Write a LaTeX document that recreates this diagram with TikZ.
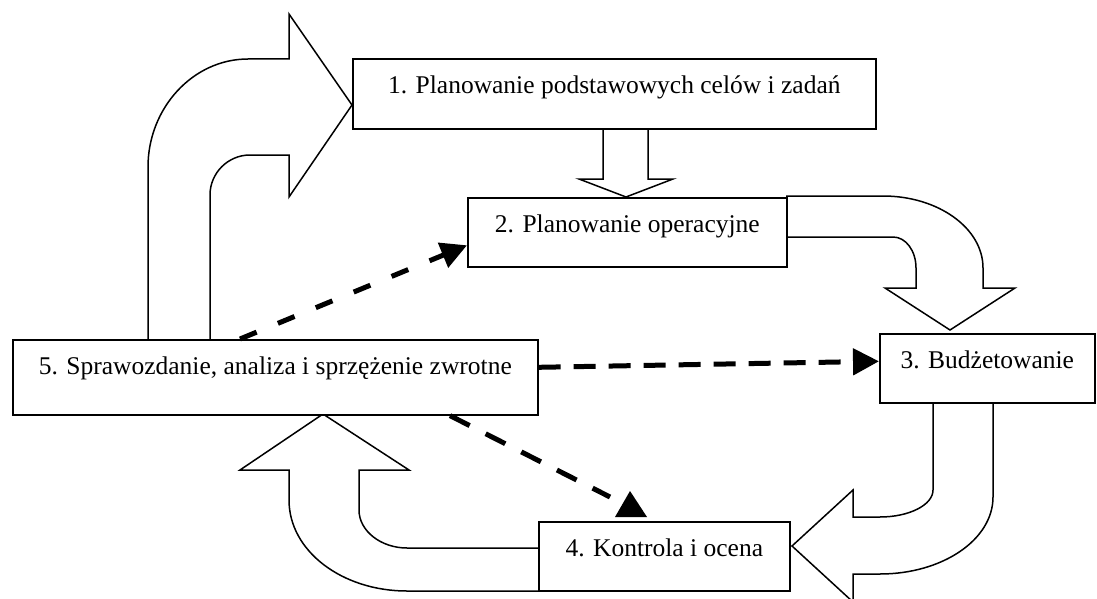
\documentclass[tikz,border=0pt]{standalone}
\usepackage{fontspec}
\setmainfont{Liberation Serif}
\usetikzlibrary{arrows.meta,calc}
\begin{document}
\begin{tikzpicture}[x=1pt,y=-1pt,
  box/.style={draw, line width=1.6pt, fill=white, inner sep=0pt, anchor=north west,
    font=\fontsize{25.5}{30}\selectfont, text height=35pt},
  blockarrow/.style={draw, line width=1.5pt, fill=white, line join=miter},
  dashline/.style={line width=5pt, -{Triangle[length=26pt,width=26pt]}},
]
\useasboundingbox[fill=white] (0,0) rectangle (1097,599);
% block arrows (shapes)
% 5 -> 1
\draw[blockarrow] (148,339) -- (148,167)
  .. controls (148,108) and (193,59) .. (248,59)
  -- (289,59) -- (289,14) -- (352,105) -- (289,197) -- (289,155) -- (250,155)
  .. controls (228,155) and (210,173) .. (210,195) -- (210,339);
% 1 -> 2
\draw[blockarrow] (603,128) -- (603,179) -- (579,179) -- (626,197) -- (673,179) -- (648,179) -- (648,128);
% 2 -> 3
\draw[blockarrow] (786,196) -- (883,196)
  .. controls (938,196) and (983,228) .. (983,268)
  -- (983,288) -- (1015,288) -- (950,330) -- (885,288) -- (916,288) -- (916,268)
  .. controls (916,251) and (906,237) .. (893,237) -- (786,237);
% 3 -> 4
\draw[blockarrow] (993,402) -- (993,497)
  .. controls (993,540) and (942,574) .. (880,574)
  -- (853,574) -- (853,602) -- (792,546) -- (853,490) -- (853,517) -- (880,517)
  .. controls (909,517) and (933,505) .. (933,490) -- (933,402);
% 4 -> 5
\draw[blockarrow] (538,591) -- (407,591)
  .. controls (342,591) and (289,551) .. (289,500)
  -- (289,470) -- (240,470) -- (323,414) -- (409,470) -- (359,470) -- (359,510)
  .. controls (359,531) and (381,548) .. (407,548) -- (538,548);
% boxes
\node[box, minimum width=523pt, minimum height=70pt, text depth=35pt] (b1) at (352,58) {1. Planowanie podstawowych celów i zadań};
\node[box, minimum width=319pt, minimum height=69pt, text depth=34pt] (b2) at (467,197) {2. Planowanie operacyjne};
\node[box, minimum width=215pt, minimum height=69pt, text depth=34pt] (b3) at (879,333) {3. Budżetowanie};
\node[box, minimum width=525pt, minimum height=75pt, text depth=40pt] (b5) at (12,339) {5. Sprawozdanie, analiza i sprzężenie zwrotne};
\node[box, minimum width=251pt, minimum height=69pt, text depth=34pt] (b4) at (538,521) {4. Kontrola i ocena};
% dashed connectors
\draw[dashline, dash pattern=on 18pt off 23pt] ($(b5.north west)+(228,0)$) -- ($(b2.west)+(0,13)$);
\draw[dashline, dash pattern=on 22pt off 13pt] ($(b5.east)+(0,-10)$) -- ($(b3.west)+(0,-7)$);
\coordinate (d3e) at ($(b4.north west)+(72,-24)$);
\draw[line width=5pt, dash pattern=on 22pt off 18pt] ($(b5.south west)+(438,0)$) -- (d3e);
\fill ($(b4.north west)+(77,-4)$) -- ($(b4.north west)+(109,-4)$) -- ($(b4.north west)+(92,-30)$) -- cycle;
\end{tikzpicture}
\end{document}
